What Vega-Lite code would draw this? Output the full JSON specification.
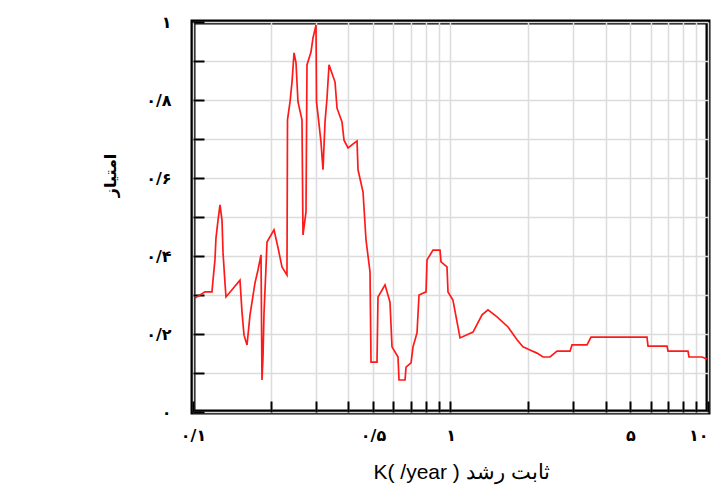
{
  "$schema": "https://vega.github.io/schema/vega-lite/v6.json",
  "width": 515,
  "height": 390,
  "autosize": "none",
  "padding": {"left": 193, "top": 22, "right": 12, "bottom": 85},
  "background": "white",
  "config": {
    "view": {"stroke": "black", "strokeWidth": 5},
    "axis": {"domain": false}
  },
  "data": {
    "values": [
      {"k": 0.1018, "s": 0.292}, {"k": 0.1113, "s": 0.308}, {"k": 0.1185, "s": 0.308}, {"k": 0.1196, "s": 0.338},
      {"k": 0.1217, "s": 0.390}, {"k": 0.1228, "s": 0.446}, {"k": 0.1251, "s": 0.492}, {"k": 0.1273, "s": 0.531},
      {"k": 0.1296, "s": 0.492}, {"k": 0.1308, "s": 0.408}, {"k": 0.1331, "s": 0.331}, {"k": 0.1343, "s": 0.295},
      {"k": 0.1522, "s": 0.338}, {"k": 0.1550, "s": 0.256}, {"k": 0.1578, "s": 0.197}, {"k": 0.1621, "s": 0.172},
      {"k": 0.1665, "s": 0.249}, {"k": 0.1741, "s": 0.331}, {"k": 0.1788, "s": 0.364}, {"k": 0.1837, "s": 0.403},
      {"k": 0.1853, "s": 0.082}, {"k": 0.1870, "s": 0.141}, {"k": 0.1887, "s": 0.254}, {"k": 0.1921, "s": 0.372},
      {"k": 0.1938, "s": 0.436}, {"k": 0.2063, "s": 0.467}, {"k": 0.2139, "s": 0.421}, {"k": 0.2216, "s": 0.372},
      {"k": 0.2317, "s": 0.351}, {"k": 0.2328, "s": 0.749}, {"k": 0.2381, "s": 0.795}, {"k": 0.2424, "s": 0.846},
      {"k": 0.2468, "s": 0.921}, {"k": 0.2512, "s": 0.895}, {"k": 0.2557, "s": 0.795}, {"k": 0.2650, "s": 0.749},
      {"k": 0.2674, "s": 0.454}, {"k": 0.2747, "s": 0.513}, {"k": 0.2771, "s": 0.890}, {"k": 0.2872, "s": 0.923},
      {"k": 0.2924, "s": 0.959}, {"k": 0.3004, "s": 0.992}, {"k": 0.3017, "s": 0.795}, {"k": 0.3058, "s": 0.762},
      {"k": 0.3141, "s": 0.692}, {"k": 0.3198, "s": 0.621}, {"k": 0.3256, "s": 0.744}, {"k": 0.3315, "s": 0.805},
      {"k": 0.3375, "s": 0.890}, {"k": 0.3561, "s": 0.846}, {"k": 0.3625, "s": 0.779}, {"k": 0.3790, "s": 0.744},
      {"k": 0.3859, "s": 0.697}, {"k": 0.4000, "s": 0.677}, {"k": 0.4335, "s": 0.695}, {"k": 0.4374, "s": 0.621},
      {"k": 0.4574, "s": 0.564}, {"k": 0.4698, "s": 0.441}, {"k": 0.4869, "s": 0.359}, {"k": 0.4913, "s": 0.128},
      {"k": 0.5183, "s": 0.128}, {"k": 0.5229, "s": 0.295}, {"k": 0.5568, "s": 0.326}, {"k": 0.5821, "s": 0.282},
      {"k": 0.5927, "s": 0.167}, {"k": 0.6254, "s": 0.141}, {"k": 0.6310, "s": 0.082}, {"k": 0.6660, "s": 0.082},
      {"k": 0.6720, "s": 0.115}, {"k": 0.7027, "s": 0.126}, {"k": 0.7152, "s": 0.167}, {"k": 0.7413, "s": 0.203},
      {"k": 0.7547, "s": 0.300}, {"k": 0.8035, "s": 0.308}, {"k": 0.8107, "s": 0.390}, {"k": 0.8551, "s": 0.415},
      {"k": 0.9104, "s": 0.415}, {"k": 0.9185, "s": 0.385}, {"k": 0.9692, "s": 0.372}, {"k": 0.9779, "s": 0.308},
      {"k": 1.022, "s": 0.287}, {"k": 1.089, "s": 0.190}, {"k": 1.223, "s": 0.205}, {"k": 1.326, "s": 0.249},
      {"k": 1.398, "s": 0.262}, {"k": 1.516, "s": 0.244}, {"k": 1.673, "s": 0.218}, {"k": 1.813, "s": 0.185},
      {"k": 1.912, "s": 0.167}, {"k": 2.036, "s": 0.159}, {"k": 2.167, "s": 0.151}, {"k": 2.287, "s": 0.141},
      {"k": 2.435, "s": 0.141}, {"k": 2.592, "s": 0.156}, {"k": 2.912, "s": 0.156}, {"k": 2.964, "s": 0.172},
      {"k": 3.389, "s": 0.172}, {"k": 3.513, "s": 0.192}, {"k": 5.796, "s": 0.192}, {"k": 5.848, "s": 0.169},
      {"k": 6.931, "s": 0.169}, {"k": 6.994, "s": 0.156}, {"k": 8.362, "s": 0.156}, {"k": 8.437, "s": 0.141},
      {"k": 9.478, "s": 0.141}, {"k": 9.91, "s": 0.136}
    ]
  },
  "mark": {"type": "line", "color": "#ff1a1a", "strokeWidth": 1.7, "clip": true},
  "encoding": {
    "x": {
      "field": "k",
      "type": "quantitative",
      "scale": {"type": "log", "domain": [0.1, 10], "nice": false},
      "axis": {
        "values": [0.1, 0.2, 0.3, 0.4, 0.5, 0.6, 0.7, 0.8, 0.9, 1, 2, 3, 4, 5, 6, 7, 8, 9, 10],
        "labelExpr": "datum.value == 0.1 ? '۰/۱' : datum.value == 0.5 ? '۰/۵' : datum.value == 1 ? '۱' : datum.value == 5 ? '۵' : datum.value == 10 ? '۱۰' : ''",
        "labelAlign": {"condition": {"test": "datum.value >= 10", "value": "right"}, "value": "center"},
        "labelFont": "DejaVu Sans",
        "labelFontSize": 16,
        "labelFontWeight": "bold",
        "labelColor": "black",
        "labelPadding": 26,
        "labelBound": false,
        "labelOverlap": false,
        "tickSize": -11,
        "tickWidth": 2,
        "tickColor": "black",
        "grid": true,
        "gridColor": "#dcdcdc",
        "gridWidth": 1.5,
        "title": "K( /year ) ثابت رشد",
        "titleFont": "Liberation Sans",
        "titleFontSize": 21,
        "titleFontWeight": "normal",
        "titleColor": "black",
        "titleX": 268,
        "titleY": 66,
        "titleAlign": "center",
        "titleBaseline": "alphabetic"
      }
    },
    "y": {
      "field": "s",
      "type": "quantitative",
      "scale": {"domain": [0, 1], "nice": false},
      "axis": {
        "values": [0, 0.1, 0.2, 0.3, 0.4, 0.5, 0.6, 0.7, 0.8, 0.9, 1],
        "labelExpr": "datum.value == 0 ? '۰' : datum.value == 0.2 ? '۰/۲' : datum.value == 0.4 ? '۰/۴' : datum.value == 0.6 ? '۰/۶' : datum.value == 0.8 ? '۰/۸' : datum.value == 1 ? '۱' : ''",
        "labelFont": "DejaVu Sans",
        "labelFontSize": 16,
        "labelFontWeight": "bold",
        "labelColor": "black",
        "labelPadding": 33,
        "labelBound": false,
        "labelOverlap": false,
        "tickSize": -11,
        "tickWidth": 2,
        "tickColor": "black",
        "grid": true,
        "gridColor": "#dcdcdc",
        "gridWidth": 1.5,
        "title": "امتیاز",
        "titleFont": "DejaVu Sans",
        "titleFontSize": 16,
        "titleFontWeight": "bold",
        "titleColor": "black",
        "titleAngle": 270,
        "titleX": -83,
        "titleY": 153,
        "titleAlign": "center",
        "titleBaseline": "middle"
      }
    }
  }
}
